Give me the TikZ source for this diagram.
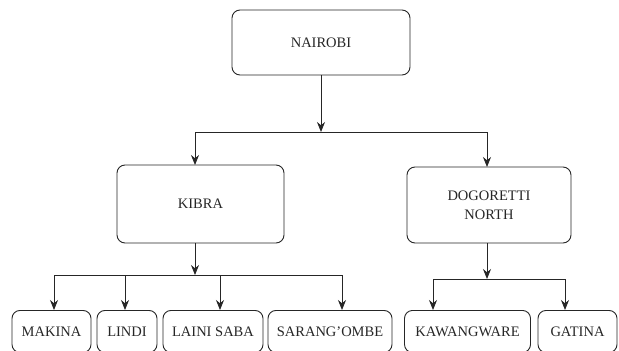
\documentclass[tikz,border=0pt]{standalone}
\usepackage{fontspec}
\setmainfont{Liberation Serif}
\usetikzlibrary{arrows.meta}
\begin{document}
\begin{tikzpicture}[x=1pt,y=-1pt,
  box/.style={draw=black!85,line width=0.9pt,rounded corners=8pt,align=center,
    font=\fontsize{14.5}{19}\selectfont,text=black!85,inner sep=0pt},
  leaf/.style={box,minimum height=42pt,anchor=north},
  conn/.style={draw=black!85,line width=0.9pt},
  arr/.style={conn,-{Stealth[length=10pt,width=8pt]}}]
\useasboundingbox (0,0) rectangle (619,351);
\clip (0,0) rectangle (619,351);
\node[box,minimum width=178pt,minimum height=65pt] (nai) at (321,42.5) {NAIROBI};
\node[box,minimum width=167pt,minimum height=78pt] (kib) at (200.5,204) {KIBRA};
\node[box,minimum width=164pt,minimum height=76pt] (dog) at (489,205) {DOGORETTI\\NORTH};
% children: top at 310, bottom edge beyond the picture
\node[leaf,minimum width=79pt] (mak) at (51.5,310) {MAKINA};
\node[leaf,minimum width=60pt] (lin) at (127,310) {LINDI};
\node[leaf,minimum width=100pt] (lai) at (213,310) {LAINI SABA};
\node[leaf,minimum width=124pt] (sar) at (330,310) {SARANG’OMBE};
\node[leaf,minimum width=126pt] (kaw) at (467.5,310) {KAWANGWARE};
\node[leaf,minimum width=79pt] (gat) at (577.5,310) {GATINA};
% level 1
\coordinate (j1) at (321,132);
\draw[arr] (nai.south) -- (j1);
\draw[arr] (j1) -| (195,165);
\draw[arr] (j1) -| (487,167);
% kibra
\coordinate (j2) at (195,275);
\draw[arr] (kib.south -| j2) -- (j2);
\draw[arr] (j2) -| (54,310);
\draw[arr] (j2) -| (125,310);
\draw[arr] (j2) -| (220,310);
\draw[arr] (j2) -| (342,310);
% dogoretti
\coordinate (j3) at (487,279);
\draw[arr] (dog.south -| j3) -- (j3);
\draw[arr] (j3) -| (433,310);
\draw[arr] (j3) -| (565,310);
\end{tikzpicture}
\end{document}
